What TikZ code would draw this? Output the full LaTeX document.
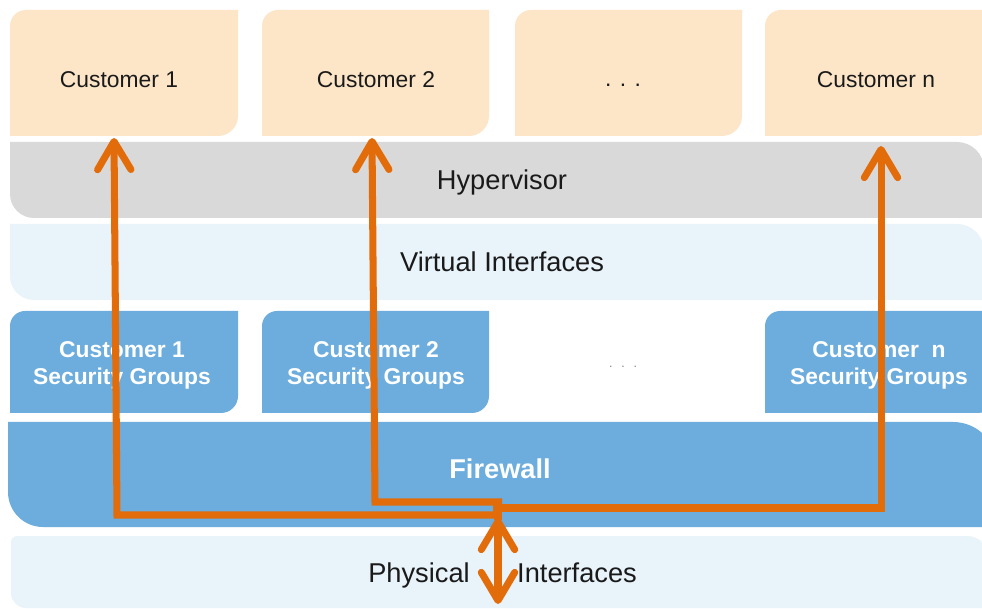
\documentclass[tikz,border=0pt]{standalone}
\usepackage{fontspec}
\setmainfont{Liberation Sans}
\usetikzlibrary{arrows.meta}
\definecolor{peach}{HTML}{FDE6C8}
\definecolor{hypgray}{HTML}{D9D9D9}
\definecolor{paleblue}{HTML}{E8F3FA}
\definecolor{midblue}{HTML}{6CADDE}
\definecolor{flowor}{HTML}{E36C0A}
\definecolor{txt}{HTML}{1A1A1A}
\definecolor{dotgray}{HTML}{7F7F7F}
% box with rounded top-left and bottom-right corners: colour, x1, ytop, x2, ybot, r(TL), r(BR)
\newcommand\boxTLBR[7]{\fill[#1] (#2,#5) -- (#2,#3-#6)
  .. controls (#2,#3-0.448*#6) and (#2+0.448*#6,#3) .. (#2+#6,#3)
  -- (#4,#3) -- (#4,#5+#7)
  .. controls (#4,#5+0.448*#7) and (#4-0.448*#7,#5) .. (#4-#7,#5) -- cycle;}
% box with rounded bottom-left and top-right corners: colour, x1, ytop, x2, ybot, r(BL), r(TR)
\newcommand\boxBLTR[7]{\fill[#1] (#2,#3) -- (#4-#7,#3)
  .. controls (#4-0.448*#7,#3) and (#4,#3-0.448*#7) .. (#4,#3-#7)
  -- (#4,#5) -- (#2+#6,#5)
  .. controls (#2+0.448*#6,#5) and (#2,#5+0.448*#6) .. (#2,#5+#6) -- cycle;}
\begin{document}
\begin{tikzpicture}[x=0.02cm,y=0.02cm,
  lbl/.style={font=\fontsize{13}{15.5}\selectfont, text=txt, anchor=base, inner sep=0pt},
  biglbl/.style={font=\fontsize{15.5}{18}\selectfont, text=txt, anchor=base, inner sep=0pt},
  sglbl/.style={font=\bfseries\fontsize{13}{15.3}\selectfont, text=white, align=center, inner sep=0pt},
  fwlbl/.style={font=\bfseries\fontsize{15.5}{18}\selectfont, text=white, anchor=base, inner sep=0pt},
  flow/.style={draw=flowor, line width=4pt},
  barb/.tip={Straight Barb[round, length=16pt, width=19pt]},
  tipped/.style={flow, -barb}]
\useasboundingbox (0,0) rectangle (982,608);
\clip (0,0) rectangle (982,608);
\fill[white] (0,0) rectangle (982,608);
% customer row
\boxTLBR{peach}{10}{598}{238}{472}{16}{20}
\boxTLBR{peach}{262}{598}{489}{472}{16}{20}
\boxTLBR{peach}{515}{598}{742}{472}{16}{20}
\boxTLBR{peach}{765}{598}{995}{472}{16}{20}
% layers
\boxBLTR{hypgray}{10}{466}{984}{390}{24}{27}
\boxBLTR{paleblue}{10}{384}{984}{308}{24}{27}
\boxTLBR{midblue}{10}{297}{238}{195}{15}{17}
\boxTLBR{midblue}{262}{297}{489}{195}{15}{17}
\boxTLBR{midblue}{765}{297}{995}{195}{15}{17}
\boxBLTR{midblue}{8}{186}{997}{81}{35}{44}
% physical interfaces: small top-left, rounded bottom-left and top-right
\fill[paleblue] (11,66) .. controls (11,69.3) and (14.3,72) .. (17,72) -- (967,72)
  .. controls (979,72) and (989,62) .. (989,50) -- (989,0) -- (26,0)
  .. controls (18,0) and (11,7) .. (11,15) -- cycle;
% texts
\node[lbl] (c1) at (119,520) {Customer 1};
\node[lbl] (c2) at (376,520) {Customer 2};
\node[lbl] (cdots) at (623,521) {. . .};
\node[lbl] (cn) at (876,520) {Customer n};
\node[biglbl] (hyp) at (502,418) {Hypervisor};
\node[biglbl] (vif) at (502,336) {Virtual Interfaces};
\node[sglbl] (sg1) at (122,243) {Customer 1\\Security Groups};
\node[sglbl] (sg2) at (376,243) {Customer 2\\Security Groups};
\node[font=\fontsize{7}{8}\selectfont, text=dotgray, anchor=base, inner sep=0pt] (sgdots) at (623,240) {.\hspace{5pt}.\hspace{5pt}.};
\node[sglbl] (sgn) at (879,243) {Customer\ \ n\\Security Groups};
\node[fwlbl] (fw) at (500,130) {Firewall};
\node[biglbl] (phy) at (419,26) {Physical};
\node[biglbl] (pif) at (577,26) {Interfaces};
% flow connectors
\coordinate (t1) at (114,470);
\coordinate (t2) at (372,470);
\coordinate (tn) at (881,462);
\coordinate (ja) at (500,93);
\coordinate (jb) at (502,106);
\coordinate (jc) at (493,100);
\coordinate (ka) at (117,93);
\coordinate (kb) at (375,106);
\coordinate (jtop) at (498,108);
\coordinate (jmid) at (498,88);
\coordinate (jup) at (498,90);
\coordinate (jdown) at (498,4);
\draw[tipped] (ja) -- (ka) -- (t1);
\draw[tipped] (jb) -- (kb) -- (t2);
\draw[tipped] (jc) -| (tn);
\draw[flow] (jtop) -- (jmid);
\draw[flow, barb-barb] (jup) -- (jdown);
\end{tikzpicture}
\end{document}
